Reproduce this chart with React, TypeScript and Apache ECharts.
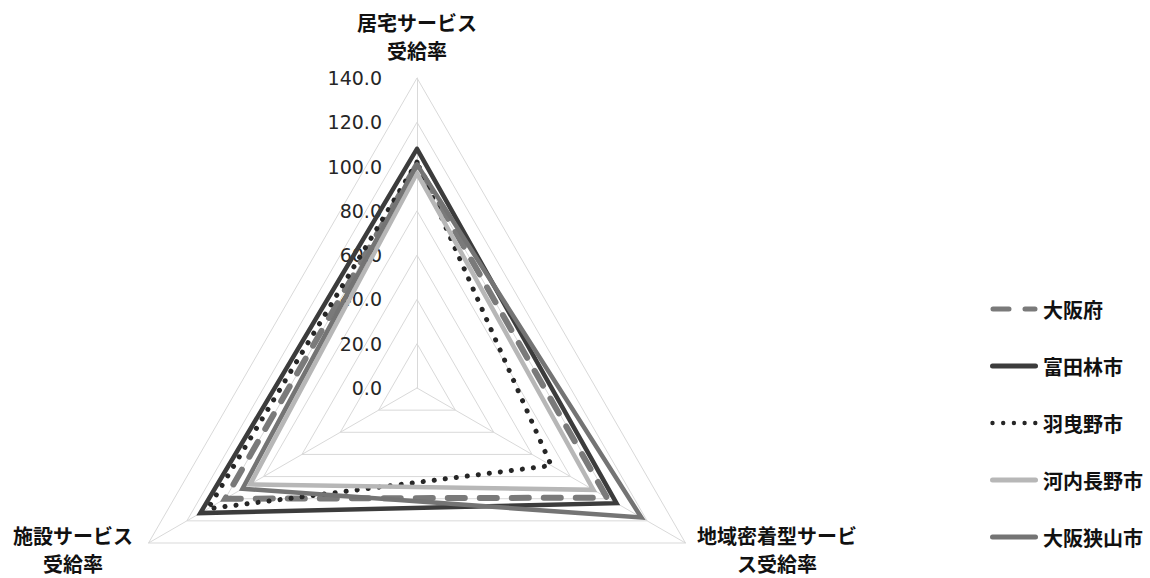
import React, { useEffect, useRef } from "react";
import * as echarts from "echarts";

const indicators = ["居宅サービス\n受給率", "施設サービス\n受給率", "地域密着型サービ\nス受給率"];
const axisMax = 140;
const axisSplit = 7;

const seriesNames = ["大阪府", "富田林市", "羽曳野市", "河内長野市", "大阪狭山市"];
const osakaFu = [101, 100, 99];
const tondabayashi = [108, 113, 104];
const habikino = [102, 109, 70];
const kawachinagano = [97, 87, 92];
const osakasayama = [101, 91, 117];
const seriesValues = [osakaFu, tondabayashi, habikino, kawachinagano, osakasayama];

const colors = ["#7a7a7a", "#3c3c3c", "#262626", "#b7b7b7", "#747474"];
const widths = [6, 4.5, 5, 4.5, 4.5];
const dashTypes: any[] = [[17, 15], "solid", [0.1, 11], "solid", "solid"];

const iconDashed =
  "path://M3,0 H19 A2.5,2.5 0 0 1 19,5 H3 A2.5,2.5 0 0 1 3,0 Z M35,0 H45 A2.5,2.5 0 0 1 45,5 H35 A2.5,2.5 0 0 1 35,0 Z";
const iconSolid = "path://M2.5,0 H45.5 A2.5,2.5 0 0 1 45.5,5 H2.5 A2.5,2.5 0 0 1 2.5,0 Z";
const dot = (cx: number) =>
  `M${cx - 2.2},2.5 A2.2,2.2 0 1 1 ${cx + 2.2},2.5 A2.2,2.2 0 1 1 ${cx - 2.2},2.5 Z`;
const iconDotted =
  "path://M0,0 M48,5 " + [2.5, 13.2, 23.9, 34.6, 45.3].map(dot).join(" ");
const icons = [iconDashed, iconSolid, iconDotted, iconSolid, iconSolid];

const CX = 417;
const CY = 388;
const R = 310;

// axis name line placements (centre x, centre y of each line)
const namePlacements = [
  { x: CX, y: [22, 50] },
  { x: 73, y: [535, 563] },
  { x: 777, y: [535, 563] },
];

export default function App() {
  const ref = useRef<HTMLDivElement>(null);
  useEffect(() => {
    if (!ref.current) return;
    const chart = echarts.init(ref.current, undefined, { renderer: "svg" });
    const jpFont = "'Noto Sans CJK JP', 'Noto Sans', sans-serif";
    const nameTexts: any[] = [];
    indicators.forEach((name, i) => {
      name.split("\n").forEach((line, j) => {
        nameTexts.push({
          type: "text",
          x: namePlacements[i].x,
          y: namePlacements[i].y[j],
          style: {
            text: line,
            textAlign: "center",
            textVerticalAlign: "middle",
            font: `bold 20px ${jpFont}`,
            lineHeight: 24,
            fill: "#111",
          },
        });
      });
    });
    const option: any = {
      animation: false,
      backgroundColor: "#ffffff",
      legend: {
        orient: "vertical",
        left: 985,
        top: 294,
        itemWidth: 48,
        itemHeight: 5,
        itemGap: 37,
        textStyle: { fontFamily: jpFont, fontSize: 20, fontWeight: "bold", color: "#111", lineHeight: 20 },
        data: seriesNames.map((n, i) => ({
          name: n,
          icon: icons[i],
          itemStyle: { color: colors[i], borderWidth: 0 },
        })),
      },
      radar: {
        center: [CX, CY],
        radius: R,
        startAngle: 90,
        shape: "polygon",
        splitNumber: axisSplit,
        axisName: { show: false },
        splitArea: { show: false },
        splitLine: { lineStyle: { color: "#d9d9d9", width: 1 } },
        axisLine: { lineStyle: { color: "#d9d9d9", width: 1 } },
        axisTick: { show: false },
        axisLabel: {
          show: true,
          margin: 35,
          fontFamily: "'DejaVu Sans', sans-serif",
          fontSize: 19,
          color: "#262626",
          formatter: (v: number) => Number(v).toFixed(1),
        },
        indicator: indicators.map((name, i) => ({
          name,
          min: 0,
          max: axisMax,
          ...(i === 0 ? {} : { axisLabel: { show: false } }),
        })),
      },
      graphic: nameTexts,
      series: seriesNames.map((n, i) => ({
        type: "radar",
        name: n,
        symbol: "none",
        itemStyle: { color: colors[i] },
        lineStyle: { color: colors[i], width: widths[i], type: dashTypes[i], cap: "round", join: "miter" },
        data: [{ name: n, value: seriesValues[i] }],
      })),
    };
    chart.setOption(option);
    return () => chart.dispose();
  }, []);
  return (
    <div
      ref={ref}
      style={{ position: "fixed", left: 0, top: 0, width: 1150, height: 578 }}
    />
  );
}
